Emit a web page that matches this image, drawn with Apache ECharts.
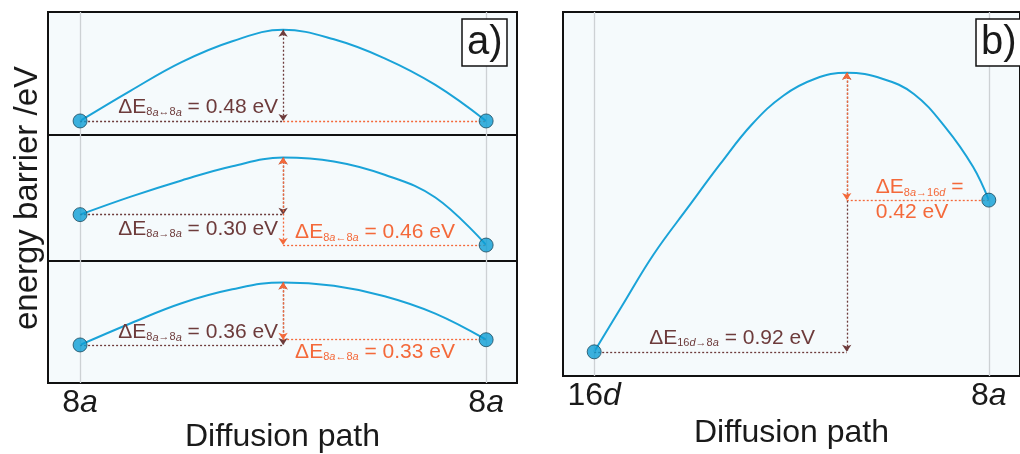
<!DOCTYPE html>
<html>
<head>
<meta charset="utf-8">
<script src="https://cdn.jsdelivr.net/npm/echarts@6/dist/echarts.min.js"></script>
<style>
html, body { margin: 0; padding: 0; background: #fff; }
#chart { width: 1020px; height: 454px; }
</style>
</head>
<body>
<div id="chart"></div>
<script>
// position along the diffusion path (0 = start site, 1 = end site)
var pathA = [0, 0.125, 0.25, 0.375, 0.5, 0.625, 0.75, 0.875, 1];
// energies (eV) read off panel a), top / middle / bottom
var energyA1 = [0, 0.16, 0.31, 0.42, 0.48, 0.43, 0.33, 0.19, 0];
var energyA2 = [0.16, 0.255, 0.34, 0.415, 0.46, 0.44, 0.37, 0.25, 0];
var energyA3 = [0, 0.125, 0.24, 0.32, 0.36, 0.34, 0.28, 0.18, 0.03];
// panel b)
var pathB = [0, 0.07, 0.15, 0.24, 0.32, 0.40, 0.48, 0.56, 0.64, 0.73, 0.81, 0.89, 0.96, 1];
var energyB = [0, 0.15, 0.32, 0.48, 0.62, 0.75, 0.845, 0.90, 0.92, 0.90, 0.85, 0.74, 0.61, 0.50];
// site names on the x axis
var sitesA = ['8a', '8a'];
var sitesB = ['16d', '8a'];
// hop names for the barrier labels [forward, backward]
var hopsA1 = ['8a↔8a', null];
var hopsA2 = ['8a→8a', '8a←8a'];
var hopsA3 = ['8a→8a', '8a←8a'];
var hopsB = ['16d→8a', '8a→16d'];

var FONT = "'Liberation Sans', Arial, sans-serif";
var INK = '#1a1a1a';
var BROWN = '#6d3b3b';
var ORANGE = '#f4693a';
var CURVE = '#1aa3d8';
var GRIDLINE = '#cdd1d4';

function subText(s) {
    return s.match(/[a-z]+|[^a-z]+/g).map(function (p) {
        return /[a-z]/.test(p) ? '{si|' + p + '}' : '{s|' + p + '}';
    }).join('');
}
function richFor(color) {
    return {
        d: { fontSize: 21, fontFamily: FONT, color: color },
        s: { fontSize: 11, fontFamily: FONT, color: color, verticalAlign: 'bottom', lineHeight: 13 },
        si: { fontSize: 11, fontFamily: FONT, color: color, fontStyle: 'italic', verticalAlign: 'bottom', lineHeight: 13 }
    };
}
function siteLabel(s) {
    return s.replace(/([a-z]+)/, '{i|$1}').replace(/^(\d+)/, '{n|$1}');
}

function dotted(color) {
    return { color: color, type: [2, 2], width: 1.3 };
}
function hline(x0, x1, y, color, label) {
    return [
        { coord: [x0, y], symbol: 'none', lineStyle: dotted(color), label: label || { show: false } },
        { coord: [x1, y], symbol: 'none' }
    ];
}
function vline(x, y0, y1, color) {
    return [
        { coord: [x, y0], symbol: 'arrow', symbolSize: 7, lineStyle: dotted(color), label: { show: false } },
        { coord: [x, y1], symbol: 'arrow', symbolSize: 7 }
    ];
}
function barrierLabel(color, hop, value, pos, dist) {
    return {
        show: true, position: pos, distance: dist,
        formatter: '{d|ΔE}' + subText(hop) + '{d| = ' + value.toFixed(2) + ' eV}',
        rich: richFor(color)
    };
}

function panel(idx, xs, ys, hops, layout) {
    var n = ys.length;
    var pk = ys.indexOf(Math.max.apply(null, ys));
    var px = xs[pk], P = ys[pk], L = ys[0], R = ys[n - 1];
    var fwd = Math.round((P - L) * 100) / 100;
    var bwd = Math.round((P - R) * 100) / 100;
    var marks = [
        { xAxis: xs[0], lineStyle: { color: GRIDLINE, type: 'solid', width: 1.3 }, label: { show: false }, symbol: 'none' },
        { xAxis: xs[n - 1], lineStyle: { color: GRIDLINE, type: 'solid', width: 1.3 }, label: { show: false }, symbol: 'none' },
        hline(xs[0], px, L, BROWN, barrierLabel(BROWN, hops[0], fwd, layout.fwdPos, layout.fwdDist)),
        vline(px, P, L, BROWN)
    ];
    if (hops[1] === null) {
        marks.push(hline(px, xs[n - 1], R, ORANGE));
    } else if (layout.split) {
        marks.push(hline(px, xs[n - 1], R, ORANGE, {
            show: true, position: 'insideStartTop', distance: layout.bwdDist,
            formatter: '{d|ΔE}' + subText(hops[1]) + '{d| =}', rich: richFor(ORANGE)
        }));
        // second, invisible copy of the line carries the value below it
        marks.push(hline(px, xs[n - 1], R, 'rgba(0,0,0,0)', {
            show: true, position: 'insideStartBottom', distance: layout.bwdDist,
            formatter: '{d|' + bwd.toFixed(2) + ' eV}', rich: richFor(ORANGE)
        }));
        marks.push(vline(px, P, R, ORANGE));
    } else {
        marks.push(hline(px, xs[n - 1], R, ORANGE, barrierLabel(ORANGE, hops[1], bwd, layout.bwdPos, layout.bwdDist)));
        marks.push(vline(px, P, R, ORANGE));
    }
    return [{
        type: 'line', xAxisIndex: idx, yAxisIndex: idx,
        data: xs.map(function (x, i) { return [x, ys[i]]; }),
        smooth: 0.4, showSymbol: false, z: 3,
        lineStyle: { color: CURVE, width: 2 },
        markLine: { silent: true, symbol: ['none', 'none'], animation: false, data: marks }
    }, {
        type: 'scatter', xAxisIndex: idx, yAxisIndex: idx, z: 5,
        data: [[xs[0], L], [xs[n - 1], R]],
        symbolSize: 14,
        itemStyle: { color: '#0c9dd4', borderColor: '#1b4a5e', borderWidth: 1 }
    }];
}

var gridBase = { show: true, backgroundColor: '#f5fafc', borderColor: '#111', borderWidth: 2 };
function grid(o) { return Object.assign({}, gridBase, o); }

function xAxisFor(idx, min, max, sites, showIt) {
    return {
        type: 'value', gridIndex: idx, min: min, max: max,
        show: showIt,
        axisLine: { show: false }, axisTick: { show: false }, splitLine: { show: false },
        axisLabel: {
            show: showIt, customValues: [0, 1], margin: 4,
            formatter: function (v) { return siteLabel(v < 0.5 ? sites[0] : sites[1]); },
            rich: {
                n: { fontSize: 32, fontFamily: FONT, color: INK },
                i: { fontSize: 32, fontFamily: FONT, color: INK, fontStyle: 'italic' }
            }
        },
        name: showIt ? 'Diffusion path' : '', nameLocation: 'middle', nameGap: 38,
        nameTextStyle: { fontSize: 32, fontFamily: FONT, color: INK }
    };
}
function yAxisFor(idx, min, max, name) {
    return {
        type: 'value', gridIndex: idx, min: min, max: max,
        show: !!name,
        axisLine: { show: false }, axisTick: { show: false }, splitLine: { show: false },
        axisLabel: { show: false },
        name: name || '', nameLocation: 'middle', nameGap: 4, nameRotate: 90,
        nameTextStyle: { fontSize: 33, fontFamily: FONT, color: INK }
    };
}

var chart = echarts.init(document.getElementById('chart'));
var series = []
    .concat(panel(0, pathA, energyA1, hopsA1, { fwdPos: 'insideEndTop', fwdDist: [5, 3] }))
    .concat(panel(1, pathA, energyA2, hopsA2, { fwdPos: 'insideEndBottom', fwdDist: [5, 4], bwdPos: 'insideStartTop', bwdDist: [12, 2] }))
    .concat(panel(2, pathA, energyA3, hopsA3, { fwdPos: 'insideEndTop', fwdDist: [5, 2], bwdPos: 'insideStartBottom', bwdDist: [12, 2] }))
    .concat(panel(3, pathB, energyB, hopsB, { fwdPos: 'insideStartTop', fwdDist: [55, 3], split: true, bwdDist: [29, 2] }));

var boxTitle = function (txt, left) {
    return {
        text: txt, left: left, top: 19, padding: [1, 5, 1, 5],
        borderColor: '#111', borderWidth: 1.5, backgroundColor: '#fff',
        textStyle: { fontSize: 40, fontWeight: 'normal', color: INK, lineHeight: 45, fontFamily: FONT }
    };
};

chart.setOption({
    animation: false,
    title: [boxTitle('a)', 462), boxTitle('b)', 976)],
    grid: [
        grid({ left: 48, top: 12, width: 469, height: 123 }),
        grid({ left: 48, top: 135, width: 469, height: 126 }),
        grid({ left: 48, top: 261, width: 469, height: 125 }),
        grid({ left: 563, top: 12, width: 469, height: 374 })
    ],
    xAxis: [
        xAxisFor(0, -0.079, 1.076, sitesA, false),
        xAxisFor(1, -0.079, 1.076, sitesA, false),
        xAxisFor(2, -0.079, 1.076, sitesA, true),
        xAxisFor(3, -0.079, 1.079, sitesB, true)
    ],
    yAxis: [
        yAxisFor(0, -0.074, 0.574),
        yAxisFor(1, -0.084, 0.579, 'energy barrier /eV'),
        yAxisFor(2, -0.219, 0.483),
        yAxisFor(3, -0.08, 1.12)
    ],
    series: series
});
</script>
</body>
</html>
